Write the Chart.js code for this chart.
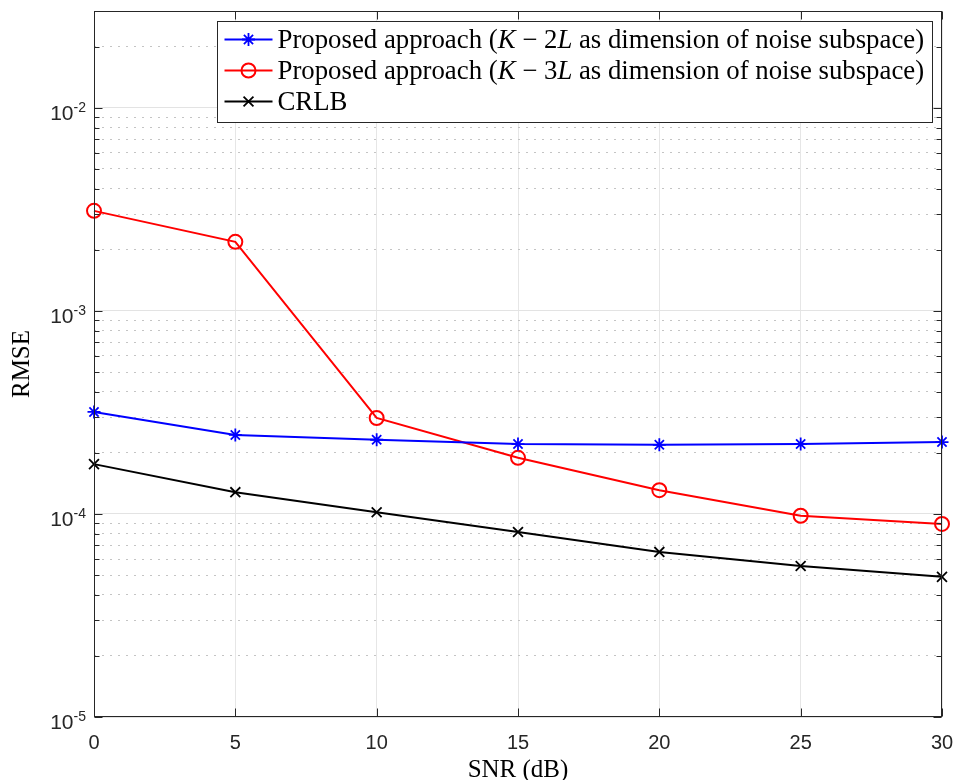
<!DOCTYPE html>
<html>
<head>
<meta charset="utf-8">
<script src="https://cdn.jsdelivr.net/npm/chart.js@4.4.1/dist/chart.umd.min.js"></script>
<style>
  html, body { margin: 0; padding: 0; background: #fff; }
  #wrap { width: 956px; height: 780px; }
</style>
</head>
<body>
<div id="wrap"><canvas id="rmse-chart" width="956" height="780"></canvas></div>
<script>
// values
const snr = [0, 5, 10, 15, 20, 25, 30];
const rmseK2L = [3.18e-4, 2.45e-4, 2.32e-4, 2.21e-4, 2.19e-4, 2.21e-4, 2.26e-4];
const rmseK3L = [3.11e-3, 2.19e-3, 2.97e-4, 1.89e-4, 1.31e-4, 9.8e-5, 8.93e-5];
const crlb = [1.76e-4, 1.28e-4, 1.02e-4, 8.15e-5, 6.5e-5, 5.54e-5, 4.9e-5];

const xTicks = [0, 5, 10, 15, 20, 25, 30];
const yDecades = [1e-5, 1e-4, 1e-3, 1e-2];
const yExponents = ['-5', '-4', '-3', '-2'];
const yMin = 1e-5;
const yMax = 3e-2;

const xTitle = 'SNR (dB)';
const yTitle = 'RMSE';

// legend text as roman / italic runs (math letters are italic)
const legendRuns = [
    [['Proposed approach (', 'r'], ['K', 'i'], [' \u2212 2', 'r'], ['L', 'i'], [' as dimension of noise subspace)', 'r']],
    [['Proposed approach (', 'r'], ['K', 'i'], [' \u2212 3', 'r'], ['L', 'i'], [' as dimension of noise subspace)', 'r']],
    [['CRLB', 'r']]
];

const SANS = '"Liberation Sans", Arial, sans-serif';
const SERIF = '"Liberation Serif", "Times New Roman", serif';
const AXIS_COLOR = '#262626';

function isDecade(v) {
    const e = Math.log10(v);
    return Math.abs(e - Math.round(e)) < 1e-6;
}

function toPoints(ys) {
    return snr.map((x, i) => ({ x: x, y: ys[i] }));
}

function serifFont(size, style) {
    return (style === 'i' ? 'italic ' : '') + size + 'px ' + SERIF;
}

function runsWidth(ctx, runs, size) {
    let w = 0;
    runs.forEach(([txt, st]) => {
        ctx.font = serifFont(size, st);
        w += ctx.measureText(txt).width;
    });
    return w;
}

function drawRuns(ctx, runs, size, x, y) {
    runs.forEach(([txt, st]) => {
        ctx.font = serifFont(size, st);
        ctx.fillText(txt, x, y);
        x += ctx.measureText(txt).width;
    });
}

const decorPlugin = {
    id: 'matlabDecor',
    afterDraw(chart) {
        const ctx = chart.ctx;
        const area = chart.chartArea;
        const xs = chart.scales.x;
        const ys = chart.scales.y;
        const L = Math.round(area.left) + 0.5;
        const R = Math.round(area.right) - 0.5;
        const T = Math.round(area.top) + 0.5;
        const B = Math.round(area.bottom) - 0.5;

        ctx.save();
        // box
        ctx.strokeStyle = AXIS_COLOR;
        ctx.lineWidth = 1;
        ctx.strokeRect(L, T, R - L, B - T);

        // inward ticks
        ctx.beginPath();
        xTicks.forEach(v => {
            const px = Math.round(xs.getPixelForValue(v)) + 0.5;
            ctx.moveTo(px, B); ctx.lineTo(px, B - 8);
            ctx.moveTo(px, T); ctx.lineTo(px, T + 8);
        });
        ys.ticks.forEach(t => {
            const py = Math.round(ys.getPixelForValue(t.value)) + 0.5;
            const len = isDecade(t.value) ? 8 : 5;
            ctx.moveTo(L, py); ctx.lineTo(L + len, py);
            ctx.moveTo(R, py); ctx.lineTo(R - len, py);
        });
        ctx.stroke();

        // x tick labels
        ctx.fillStyle = AXIS_COLOR;
        ctx.font = '20px ' + SANS;
        ctx.textAlign = 'center';
        ctx.textBaseline = 'alphabetic';
        xTicks.forEach(v => {
            ctx.fillText(String(v), xs.getPixelForValue(v), area.bottom + 32);
        });

        // y tick labels: 10 with superscript exponent
        ctx.textAlign = 'left';
        yDecades.forEach((d, i) => {
            const py = ys.getPixelForValue(d);
            ctx.font = '14px ' + SANS;
            const supW = ctx.measureText(yExponents[i]).width;
            ctx.font = '21px ' + SANS;
            const baseW = ctx.measureText('10').width;
            const xEnd = area.left - 8;
            ctx.fillText('10', xEnd - supW - baseW, py + 12);
            ctx.font = '14px ' + SANS;
            ctx.fillText(yExponents[i], xEnd - supW, py + 4);
        });

        // axis titles
        ctx.fillStyle = '#000';
        ctx.font = '25px ' + SERIF;
        ctx.textAlign = 'center';
        ctx.fillText(xTitle, (area.left + area.right) / 2, 777);
        ctx.save();
        ctx.translate(29, (area.top + area.bottom) / 2);
        ctx.rotate(-Math.PI / 2);
        ctx.fillText(yTitle, 0, 0);
        ctx.restore();

        // legend box (north-east, inside axes)
        const textW = 647;
        const widest = Math.max(...legendRuns.map(r => runsWidth(ctx, r, 24)));
        const fsize = 24 * textW / widest;
        const boxR = Math.round(area.right) - 9.5;
        const boxL = boxR - 715;
        const boxT = Math.round(area.top) + 10.5;
        const boxB = boxT + 101;
        ctx.fillStyle = '#fff';
        ctx.fillRect(boxL, boxT, boxR - boxL, boxB - boxT);
        ctx.strokeStyle = AXIS_COLOR;
        ctx.lineWidth = 1;
        ctx.strokeRect(boxL, boxT, boxR - boxL, boxB - boxT);

        ctx.textAlign = 'left';
        ctx.textBaseline = 'middle';
        chart.data.datasets.forEach((ds, i) => {
            const cy = boxT + 18 + i * 31;
            ctx.strokeStyle = ds.borderColor;
            ctx.lineWidth = ds.borderWidth;
            ctx.beginPath();
            ctx.moveTo(boxL + 7, cy);
            ctx.lineTo(boxL + 55, cy);
            ctx.stroke();
            ctx.fillStyle = 'rgba(0,0,0,0)';
            ctx.lineWidth = ds.pointBorderWidth;
            Chart.helpers.drawPoint(ctx, {
                pointStyle: ds.pointStyle,
                radius: ds.pointRadius,
                rotation: 0,
                borderWidth: ds.pointBorderWidth
            }, boxL + 31, cy);
            ctx.fillStyle = '#000';
            drawRuns(ctx, legendRuns[i], fsize, boxL + 60, cy + 1);
        });
        ctx.restore();
    }
};

const chart = new Chart(document.getElementById('rmse-chart').getContext('2d'), {
    type: 'line',
    data: {
        datasets: [
            {
                label: 'K-2L',
                data: toPoints(rmseK2L),
                borderColor: '#0000ff',
                borderWidth: 2,
                pointStyle: 'star',
                pointRadius: 6.5,
                pointBorderWidth: 1.8,
                pointBorderColor: '#0000ff',
                pointBackgroundColor: 'rgba(0,0,0,0)',
                tension: 0,
                clip: false
            },
            {
                label: 'K-3L',
                data: toPoints(rmseK3L),
                borderColor: '#ff0000',
                borderWidth: 2,
                pointStyle: 'circle',
                pointRadius: 7,
                pointBorderWidth: 2,
                pointBorderColor: '#ff0000',
                pointBackgroundColor: 'rgba(0,0,0,0)',
                tension: 0,
                clip: false
            },
            {
                label: 'CRLB',
                data: toPoints(crlb),
                borderColor: '#000000',
                borderWidth: 2,
                pointStyle: 'crossRot',
                pointRadius: 7,
                pointBorderWidth: 1.8,
                pointBorderColor: '#000000',
                pointBackgroundColor: 'rgba(0,0,0,0)',
                tension: 0,
                clip: false
            }
        ]
    },
    options: {
        responsive: false,
        animation: false,
        events: [],
        layout: { padding: { top: 11, right: 14, left: 0, bottom: 0 } },
        plugins: {
            legend: { display: false },
            tooltip: { enabled: false }
        },
        scales: {
            x: {
                type: 'linear',
                min: 0,
                max: 30,
                afterBuildTicks: (scale) => {
                    scale.ticks = xTicks.map(v => ({ value: v }));
                },
                afterFit: (scale) => { scale.height = 63; },
                ticks: { display: false },
                grid: { color: '#e6e6e6', lineWidth: 1, drawTicks: false },
                border: { display: false }
            },
            y: {
                type: 'logarithmic',
                min: yMin,
                max: yMax,
                afterBuildTicks: (scale) => {
                    const t = [];
                    yDecades.forEach(d => {
                        for (let m = 1; m <= 9; m++) {
                            const v = m * d;
                            if (v <= yMax * 1.0001) t.push({ value: v });
                        }
                    });
                    scale.ticks = t;
                },
                afterFit: (scale) => { scale.width = 94; },
                ticks: { display: false, autoSkip: false },
                grid: {
                    drawTicks: false,
                    lineWidth: 1,
                    color: (c) => (c.tick && !isDecade(c.tick.value)) ? '#c4c4c4' : '#e3e3e3',
                    borderDash: (c) => (c.tick && !isDecade(c.tick.value)) ? [2, 6] : []
                },
                border: {
                    display: false,
                    dash: (c) => (c.tick && !isDecade(c.tick.value)) ? [2, 6] : []
                }
            }
        }
    },
    plugins: [decorPlugin]
});
</script>
</body>
</html>
